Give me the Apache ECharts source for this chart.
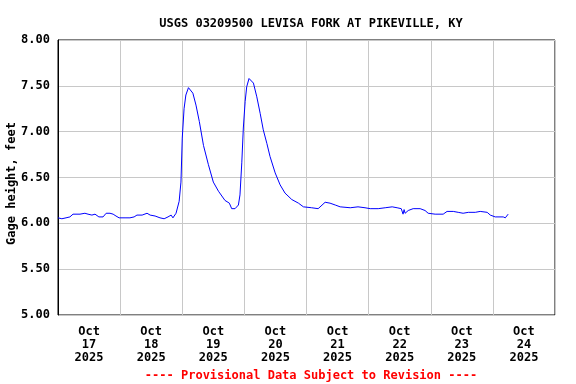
<!DOCTYPE html>
<html>
<head>
<meta charset="utf-8">
<script src="https://cdn.jsdelivr.net/npm/echarts@6/dist/echarts.min.js"></script>
<style>html,body{margin:0;padding:0;background:#fff}#c{width:576px;height:384px}</style>
</head>
<body>
<div id="c"></div>
<script>
// Hours since Oct 17 2025 00:00
var hours = [0,1.5,3.1,4.6,5.8,8.5,10.4,11.6,13.1,14.3,15.8,17.4,18.6,20.1,21.3,22.4,23.6,25.9,27.8,29.4,30.5,32.5,34.4,35.6,37.5,39.4,41.0,42.5,43.7,44.4,45.6,46.8,47.5,48.0,48.7,49.4,50.4,51.0,52.1,53.3,54.6,56.2,58.1,60.0,62.0,64.5,66.2,67.1,68.4,69.7,70.3,71.0,71.6,72.3,72.9,73.8,74.3,75.5,76.8,78.1,79.3,80.7,81.9,83.9,85.8,87.7,90.3,92.9,94.8,98.0,100.5,103.2,105.1,107.1,109.0,112.9,115.9,118.6,120.6,123.7,126.4,129.1,131.0,132.6,133.3,133.7,134.1,135.3,137.2,139.9,141.8,143.0,145.7,148.8,150.3,152.7,154.6,156.5,158.5,161.2,163.1,165.8,167.0,168.9,172.0,172.8,173.9];
var gageHeight = [6.06,6.05,6.06,6.07,6.10,6.10,6.11,6.10,6.09,6.10,6.07,6.07,6.11,6.11,6.10,6.08,6.06,6.06,6.06,6.07,6.09,6.09,6.11,6.09,6.08,6.06,6.05,6.07,6.09,6.06,6.11,6.24,6.45,6.93,7.25,7.40,7.48,7.49,7.42,7.29,7.11,6.85,6.64,6.45,6.35,6.25,6.22,6.16,6.16,6.20,6.31,6.66,7.04,7.33,7.49,7.58,7.60,7.53,7.38,7.20,7.02,6.87,6.73,6.55,6.42,6.33,6.26,6.22,6.18,6.17,6.16,6.23,6.22,6.20,6.18,6.17,6.18,6.17,6.16,6.16,6.17,6.18,6.17,6.16,6.10,6.15,6.11,6.14,6.16,6.16,6.14,6.11,6.10,6.10,6.13,6.13,6.12,6.11,6.12,6.12,6.13,6.12,6.09,6.07,6.07,6.06,6.10];
var dayLabels = ['Oct\n17\n2025','Oct\n18\n2025','Oct\n19\n2025','Oct\n20\n2025','Oct\n21\n2025','Oct\n22\n2025','Oct\n23\n2025','Oct\n24\n2025'];
var titleText = 'USGS 03209500 LEVISA FORK AT PIKEVILLE, KY';
var footerText = '---- Provisional Data Subject to Revision ----';
var yName = 'Gage height, feet';

var font = '"DejaVu Sans Mono", "Liberation Mono", monospace';
var pts = hours.map(function(h, i){ return [h, gageHeight[i]]; });

var chart = echarts.init(document.getElementById('c'), null, {renderer: 'canvas'});
chart.setOption({
  animation: false,
  backgroundColor: '#ffffff',
  title: [
    {text: titleText, left: 306, top: 13, textAlign: 'center',
     textStyle: {fontFamily: font, fontWeight: 'bold', fontSize: 12, color: '#000'}},
    {text: footerText, left: 306, top: 365, textAlign: 'center',
     textStyle: {fontFamily: font, fontWeight: 'bold', fontSize: 12, color: '#ff0000'}}
  ],
  grid: {left: 58, right: 21, top: 40, bottom: 69, containLabel: false, outerBoundsMode: 'none',
         show: true, borderColor: '#000', borderWidth: 1, backgroundColor: 'transparent'},
  xAxis: [
    {type: 'value', min: 0, max: 192, interval: 24,
     axisLine: {show: false}, axisTick: {show: false}, axisLabel: {show: false},
     splitLine: {show: true, lineStyle: {color: '#c8c8c8', width: 1}}},
    {type: 'category', data: dayLabels, boundaryGap: true, position: 'bottom',
     axisLine: {show: false}, axisTick: {show: false}, splitLine: {show: false},
     axisLabel: {interval: 0, margin: 10, fontFamily: font, fontWeight: 'bold', fontSize: 12, lineHeight: 13, color: '#000'}}
  ],
  yAxis: {
    type: 'value', min: 5, max: 8, interval: 0.5,
    name: yName, nameLocation: 'middle', nameGap: 40, nameRotate: 90, nameMoveOverlap: false,
    nameTextStyle: {fontFamily: font, fontWeight: 'bold', fontSize: 12, color: '#000', padding: [0, 0, 0, -12]},
    axisLine: {show: true, lineStyle: {color: '#000'}}, axisTick: {show: false},
    axisLabel: {margin: 8, fontFamily: font, fontWeight: 'bold', fontSize: 12, color: '#000',
      formatter: function(v){ return v.toFixed(2); }},
    splitLine: {show: true, lineStyle: {color: '#c8c8c8', width: 1}}
  },
  series: [{
    type: 'line', xAxisIndex: 0, data: pts, showSymbol: false, symbol: 'none',
    lineStyle: {color: '#0000ff', width: 1}
  }]
});
</script>
</body>
</html>
